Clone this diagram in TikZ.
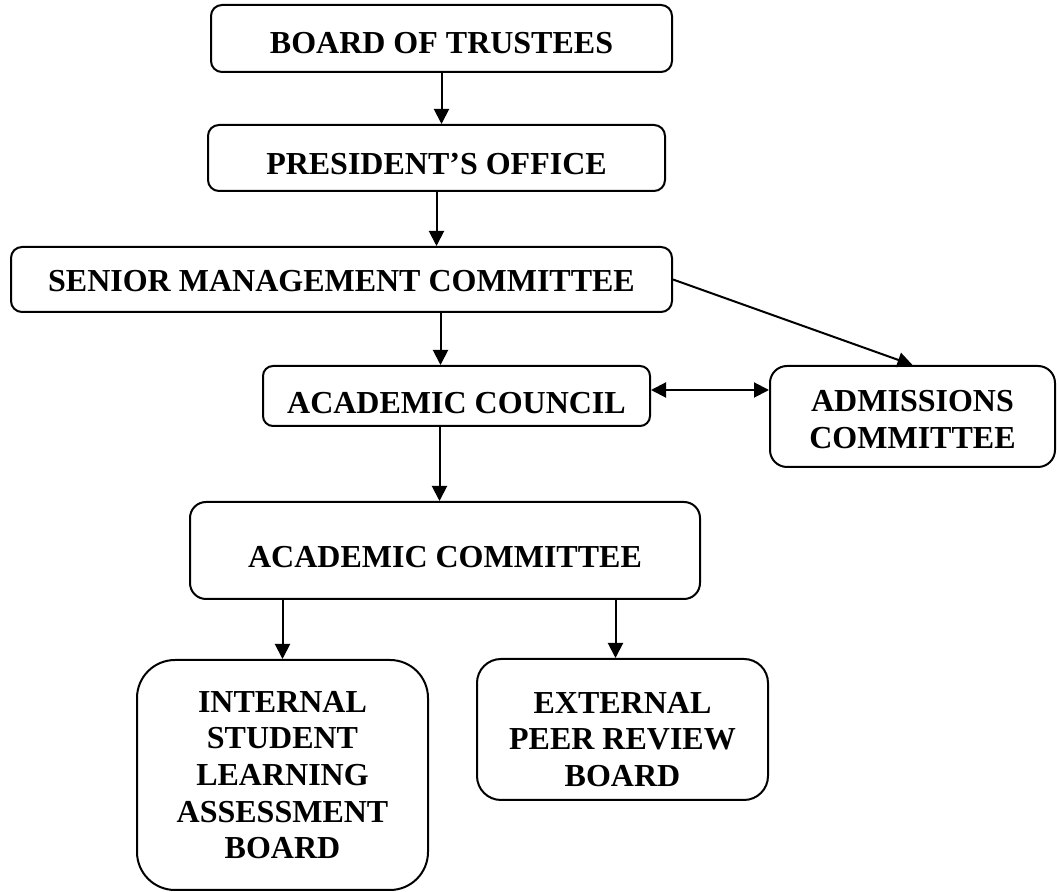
\documentclass[tikz,border=0pt]{standalone}
\usepackage{fontspec}
\setmainfont{Liberation Serif}
\usetikzlibrary{arrows.meta}

% invisible strut that pushes the caps down by #1
\newcommand{\capdrop}[1]{\rule{0pt}{\dimexpr10.5pt+#1*2\relax}}

\tikzset{
  orgbox/.style={draw, line width=1pt, align=center, inner sep=0pt,
    font=\fontsize{16}{18.3}\selectfont\bfseries},
  arr/.style={line width=1pt, -{Triangle[length=7.5pt,width=7.5pt]}},
  dblarr/.style={line width=1pt, {Triangle[length=7.5pt,width=7.5pt]}-{Triangle[length=7.5pt,width=7.5pt]}}
}

\begin{document}
\begin{tikzpicture}[x=0.5pt,y=-0.5pt]
\useasboundingbox (0,0) rectangle (1057,892);

% Top of the chart
\node[orgbox, rounded corners=5.5pt, minimum width=230.5pt, minimum height=33.5pt] (bot) at (441.5,38.5) {\capdrop{2.5pt}BOARD OF TRUSTEES};
\node[orgbox, rounded corners=5.5pt, minimum width=228.5pt, minimum height=33pt] (pres) at (436.5,158) {\capdrop{3pt}PRESIDENT’S OFFICE};
\node[orgbox, rounded corners=5.5pt, minimum width=330.5pt, minimum height=32.5pt] (smc) at (341.5,279.5) {\capdrop{1pt}SENIOR MANAGEMENT COMMITTEE};

% Councils
\node[orgbox, rounded corners=5pt, minimum width=193.5pt, minimum height=30pt] (acc) at (456.5,396) {\capdrop{3.5pt}ACADEMIC COUNCIL};
\node[orgbox, rounded corners=8.5pt, minimum width=142.5pt, minimum height=50.5pt] (adm) at (912.5,416.5) {\capdrop{1.5pt}ADMISSIONS\\COMMITTEE};
\node[orgbox, rounded corners=8pt, minimum width=255pt, minimum height=48.5pt] (acom) at (445,550.5) {\capdrop{3.5pt}ACADEMIC COMMITTEE};

% Boards
\node[orgbox, rounded corners=19pt, minimum width=145.5pt, minimum height=115pt] (islab) at (282.5,775) {INTERNAL\\STUDENT\\LEARNING\\ASSESSMENT\\BOARD};
\node[orgbox, rounded corners=12pt, minimum width=145.5pt, minimum height=70.5pt] (eprb) at (622.5,729.5) {\capdrop{5pt}EXTERNAL\\PEER REVIEW\\BOARD};

% Connectors
\draw[arr] (bot.south) -- (bot.south |- pres.north);
\draw[arr] (pres.south) -- (pres.south |- smc.north);
\draw[arr] ([xshift=-8pt]acc.north |- smc.south) -- ([xshift=-8pt]acc.north);
\draw[arr] (smc.east) -- (adm.north);
\draw[dblarr] ([yshift=3pt]acc.east) -- ([yshift=3pt]acc.east -| adm.west);
\draw[arr] ([xshift=-8.5pt]acc.south) -- ([xshift=-8.5pt]acc.south |- acom.north);
\draw[arr] (islab.north |- acom.south) -- (islab.north);
\draw[arr] ([xshift=-3.5pt]eprb.north |- acom.south) -- ([xshift=-3.5pt]eprb.north);
\end{tikzpicture}
\end{document}
